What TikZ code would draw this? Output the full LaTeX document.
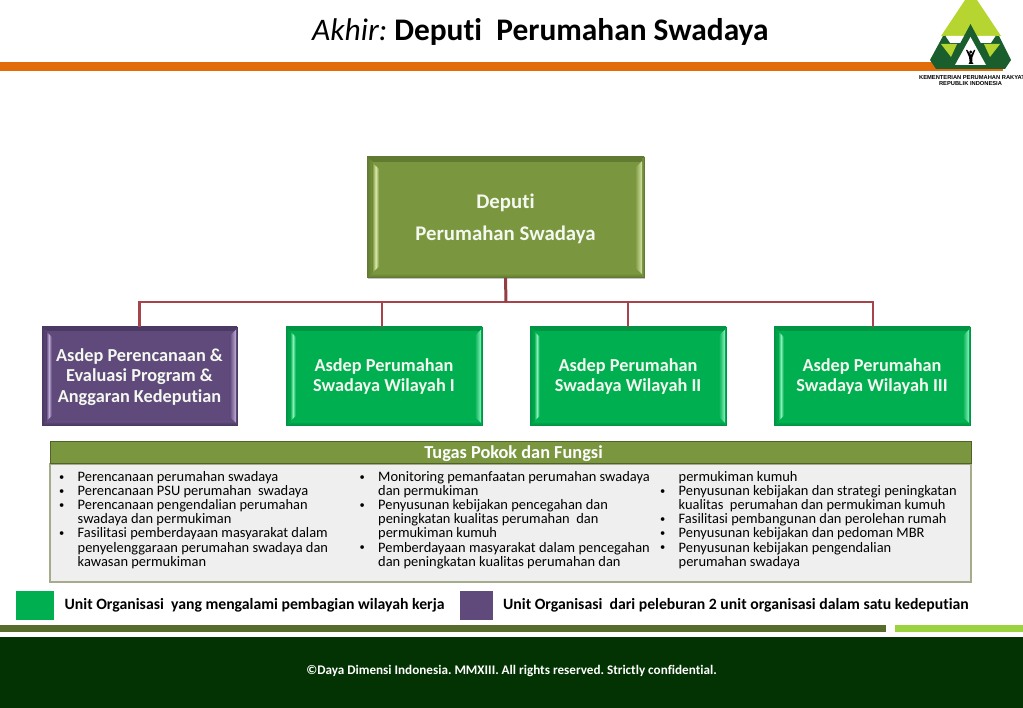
\documentclass[tikz,border=0pt]{standalone}
\usepackage{fontspec}
\setmainfont[Ligatures=NoCommon]{Carlito}
\newfontfamily\logofont{Liberation Sans}
\usetikzlibrary{calc,shadows}
\definecolor{olive}{HTML}{7A963E}
\definecolor{olivedk}{HTML}{607A32}
\definecolor{olivelt}{HTML}{DCE8AC}
\definecolor{purp}{HTML}{604A7B}
\definecolor{purpdk}{HTML}{4A3962}
\definecolor{purplt}{HTML}{BFACD6}
\definecolor{grn}{HTML}{00B050}
\definecolor{grndk}{HTML}{009444}
\definecolor{grnlt}{HTML}{8AF0BC}
\definecolor{conn}{HTML}{A5444A}
\definecolor{orangebar}{HTML}{E36C0A}
\definecolor{footer}{HTML}{033303}
\definecolor{stripe}{HTML}{566B2C}
\definecolor{stripelt}{HTML}{9BD23F}
\definecolor{logodk}{HTML}{1B5E2E}
\definecolor{logolt}{HTML}{B7D531}
\tikzset{
  x=1pt,y=-1pt,
  connline/.style={draw=conn,line width=2.4pt},
  stemline/.style={draw=conn!90!black,line width=3pt},
  legendtext/.style={font=\fontsize{15.75}{17}\selectfont\bfseries,text=black,anchor=west,inner sep=0pt},
  coltext/.style={font=\fontsize{14.45}{13.85}\selectfont,text=black,anchor=north west,inner sep=0pt},
}
\newcommand{\bul}{\raisebox{1.2pt}{\fontsize{10.5}{10}\selectfont •}}
\newcommand{\bevbox}[9]{%
  \node[draw=#7,line width=.6pt,fill=#6,inner sep=0pt,
    minimum width={(#4-#2)*1pt},minimum height={(#5-#3)*1pt},
    drop shadow={shadow xshift=1pt,shadow yshift=-1.5pt,opacity=.45},
    text={rgb,255:red,244;green,248;blue,240},align=center,font=\boxfont,
    path picture={
      \pgftransformreset
      \shade[top color=#7,bottom color=#6] (#2,#3) rectangle (#4,{#3+#9*.5});
      \shade[top color=#6,bottom color=#7] (#2,{#5-#9*.4}) rectangle (#4,#5);
      \shade[left color=#7,right color=#6] (#2,#3) -- ({#2+#9*.6},{#3+#9*.5}) -- ({#2+#9*.6},{#5-#9*.4}) -- (#2,#5) -- cycle;
      \shade[left color=#6,right color=#7] ({#4-#9*.15},{#3+#9*.1}) -- (#4,#3) -- (#4,#5) -- ({#4-#9*.15},{#5-#9*.1}) -- cycle;
      \shade[left color=#6,right color=#6,middle color=#8] ({#2+#9*.55},{#3+#9*.6}) -- ({#2+#9*1.2},{#3+#9*1.2}) -- ({#2+#9*1.2},{#5-#9*1.1}) -- ({#2+#9*.55},{#5-#9*.5}) -- cycle;
      \shade[left color=#6,right color=#8] ({#4-#9*.9},{#3+#9*1.1}) -- ({#4-#9*.15},{#3+#9*.35}) -- ({#4-#9*.15},{#5-#9*.3}) -- ({#4-#9*.9},{#5-#9*1.0}) -- cycle;
    }] (#1) at ({(#2+#4)/2},{(#3+#5)/2}) {\boxbody};%
}
\begin{document}
\begin{tikzpicture}
\frenchspacing
\useasboundingbox (0,0) rectangle (1023,708);
\fill[white] (0,0) rectangle (1023,708);
% header bar
\fill[orangebar] (0,62) rectangle (1003,71);
% title
\node[inner sep=0pt,anchor=base west,font=\fontsize{31.4}{36}\selectfont,text=black] (title) at (312,40.5) {\textit{Akhir:} \textbf{Deputi\ \ Perumahan Swadaya}};
% logo
\fill[logodk] (930,60) -- (943,36) -- (999,36) -- (1011,60) -- (1005,69) -- (936,69) -- cycle;
\fill[logolt] (965,0) -- (977,0) -- (1001,36) -- (941,36) -- cycle;
\fill[white] (946,36) -- (996,36) -- (1000,43) -- (941,43) -- cycle;
\fill[logodk] (945,35.5) -- (950,43) -- (940,43) -- cycle;
\fill[logodk] (996,35.5) -- (1001,43) -- (991,43) -- cycle;
\fill[logodk] (970.5,24) -- (992,64) -- (949,64) -- cycle;
\fill[logolt] (941,44) -- (957,44) -- (951,57) -- cycle;
\fill[logolt] (1000,44) -- (984,44) -- (990,57) -- cycle;
\fill[white] (970.5,37) -- (986,65) -- (955,65) -- cycle;
\fill[black] (970.7,52) circle (1.7);
\fill[black] (966,50) -- (967.3,50) -- (971,55) -- (974,50) -- (975.3,50) -- (972.5,57) -- (972.2,62) -- (973.5,64) -- (968.5,64) -- (969.6,62) -- (969,57) -- cycle;
\node[inner sep=0pt,font=\logofont\fontsize{5.75}{7}\selectfont\bfseries] (logoa) at (972,77.3) {KEMENTERIAN PERUMAHAN RAKYAT};
\node[inner sep=0pt,font=\logofont\fontsize{5.75}{7}\selectfont\bfseries] (logob) at (970.5,84) {REPUBLIK INDONESIA};
% boxes
\def\boxfont{\fontsize{20.8}{32.5}\selectfont\bfseries}
\def\boxbody{\rule{0pt}{17.5pt}Deputi\\Perumahan Swadaya}
\bevbox{dep}{367}{157}{644}{277.5}{olive}{olivedk}{olivelt}{10}
\def\boxfont{\fontsize{18.3}{20.5}\selectfont\bfseries}
\def\boxbody{\rule{0pt}{14.3pt}Asdep Perencanaan \&\\Evaluasi Program \&\\Anggaran Kedeputian}
\bevbox{a}{42}{327}{237}{425}{purp}{purpdk}{purplt}{8}
\def\boxbody{\rule{0pt}{14.3pt}Asdep Perumahan\\Swadaya Wilayah I}
\bevbox{b}{286}{327}{482}{425}{grn}{grndk}{grnlt}{8}
\def\boxbody{\rule{0pt}{14.3pt}Asdep Perumahan\\Swadaya Wilayah II}
\bevbox{c}{530}{327}{726}{425}{grn}{grndk}{grnlt}{8}
\def\boxbody{\rule{0pt}{14.3pt}Asdep Perumahan\\Swadaya Wilayah III}
\bevbox{d}{774}{327}{970}{425}{grn}{grndk}{grnlt}{8}
% connectors
\coordinate (bus) at (506,302);
\draw[connline] (bus) -| (a.north);
\draw[connline] (bus) -| ([xshift=-2pt]b.north);
\draw[connline] (bus) -| (c.north);
\draw[connline] (bus) -| ([xshift=1pt]d.north);
\draw[stemline] (dep.south) -- (bus);
% tugas panel
\node[draw={rgb,255:red,165;green,172;blue,140},line width=1.2pt,fill={rgb,255:red,239;green,239;blue,239},inner sep=0pt,minimum width=921pt,minimum height=118pt] (panel) at (510.5,523) {};
\node[draw={rgb,255:red,80;green,98;blue,40},line width=1.6pt,fill=olive,inner sep=0pt,minimum width=921pt,minimum height=22pt,font=\fontsize{18.3}{21}\selectfont\bfseries,text=white] (head) at (511,452.5) {\hspace*{5pt}\rule{0pt}{15.5pt}Tugas Pokok dan Fungsi};
% columns
\node[coltext] (colone) at (59,471) {\begin{tabular}{@{}p{18.5pt}@{}l@{}}
\bul&Perencanaan perumahan swadaya\\
\bul&Perencanaan PSU perumahan\ \ swadaya\\
\bul&Perencanaan pengendalian perumahan\\
&swadaya dan permukiman\\
\bul&Fasilitasi pemberdayaan masyarakat dalam\\
&penyelenggaraan perumahan swadaya dan\\
&kawasan permukiman
\end{tabular}};
\node[coltext] (coltwo) at (359.5,471) {\begin{tabular}{@{}p{18.5pt}@{}l@{}}
\bul&Monitoring pemanfaatan perumahan swadaya\\
&dan permukiman\\
\bul&Penyusunan kebijakan pencegahan dan\\
&peningkatan kualitas perumahan\ \ dan\\
&permukiman kumuh\\
\bul&Pemberdayaan masyarakat dalam pencegahan\\
&dan peningkatan kualitas perumahan dan
\end{tabular}};
\node[coltext] (colthree) at (660,471) {\begin{tabular}{@{}p{18.5pt}@{}l@{}}
&permukiman kumuh\\
\bul&Penyusunan kebijakan dan strategi peningkatan\\
&kualitas\ \ perumahan dan permukiman kumuh\\
\bul&Fasilitasi pembangunan dan perolehan rumah\\
\bul&Penyusunan kebijakan dan pedoman MBR\\
\bul&Penyusunan kebijakan pengendalian\\
&perumahan swadaya
\end{tabular}};
% legend
\node[fill=grn,inner sep=0pt,minimum width=38pt,minimum height=29pt] (lega) at (35,605.5) {};
\node[fill=purp,inner sep=0pt,minimum width=33pt,minimum height=29pt] (legb) at (476.5,605.5) {};
\node[legendtext] (ltexta) at (64.5,605) {Unit Organisasi\ \ yang mengalami pembagian wilayah kerja};
\node[legendtext] (ltextb) at (503,605) {Unit Organisasi\ \ dari peleburan 2 unit organisasi dalam satu kedeputian};
% bottom
\fill[stripe] (0,624.5) rectangle (886,632);
\fill[stripelt] (895,624.5) rectangle (1023,632);
\fill[footer] (0,637) rectangle (1023,708);
\node[inner sep=0pt,font=\fontsize{13.15}{15}\selectfont\bfseries,text=white] (foot) at (511.5,671) {©Daya Dimensi Indonesia. MMXIII. All rights reserved. Strictly confidential.};
\end{tikzpicture}
\end{document}
